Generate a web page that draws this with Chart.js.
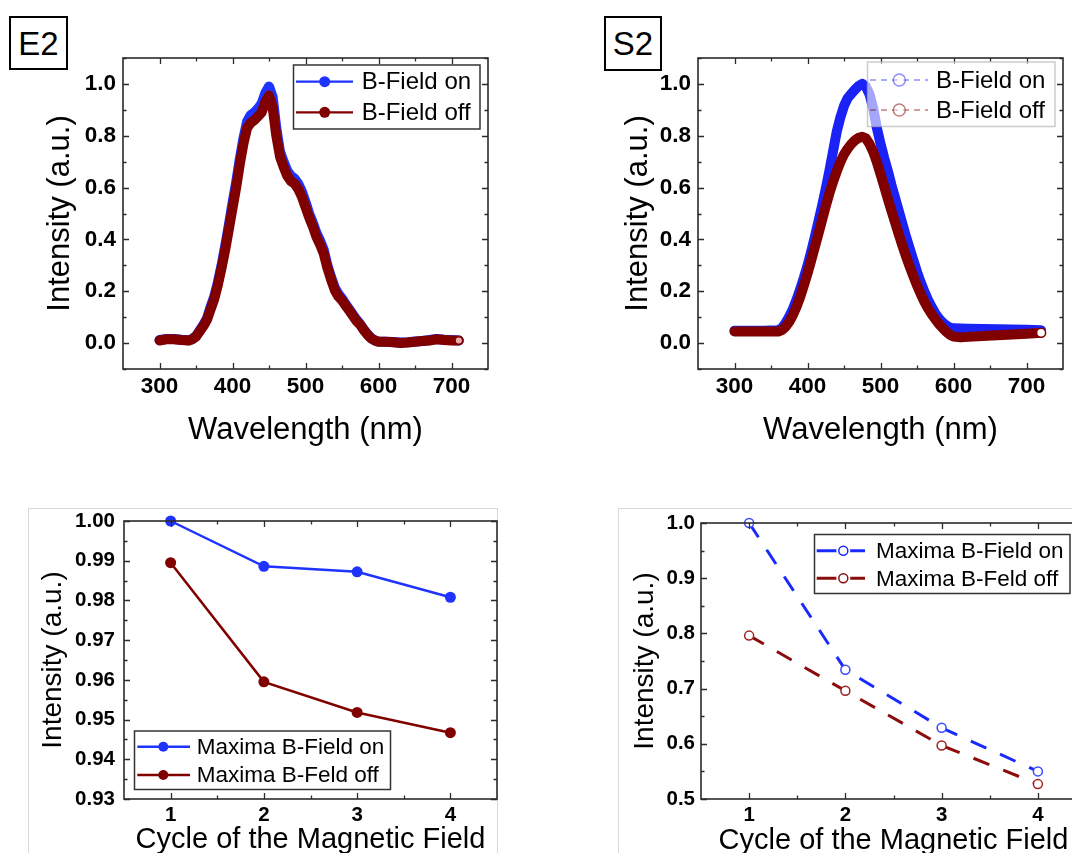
<!DOCTYPE html>
<html><head><meta charset="utf-8">
<script src="https://cdn.jsdelivr.net/npm/chart.js@4.4.0/dist/chart.umd.min.js"></script>
<style>
html,body{margin:0;padding:0;background:#fff;}
body{width:1072px;height:853px;overflow:hidden;position:relative;font-family:'Liberation Sans',Arial,sans-serif;}
.panel{position:absolute;}
.tag{position:absolute;border:2px solid #000;font-size:33px;line-height:1;display:flex;align-items:center;justify-content:center;box-sizing:border-box;color:#000;}
.frame{position:absolute;border:1px solid #d9d9d9;box-sizing:border-box;}
</style></head>
<body>
<div class="frame" style="left:28px;top:508px;width:470px;height:360px;"></div>
<div class="frame" style="left:618px;top:508px;width:520px;height:360px;"></div>
<div class="tag" style="left:9px;top:16px;width:59px;height:54px;">E2</div>
<div class="tag" style="left:604px;top:16px;width:58px;height:55px;">S2</div>
<canvas id="cE2" class="panel" width="520" height="450" style="left:0;top:0;"></canvas>
<canvas id="cS2" class="panel" width="492" height="450" style="left:580px;top:0;"></canvas>
<canvas id="cE2max" class="panel" width="520" height="380" style="left:0;top:480px;"></canvas>
<canvas id="cS2max" class="panel" width="520" height="380" style="left:600px;top:480px;"></canvas>
<script>
// ---------- data ----------
const e2Wavelength = [300,310,320,330,340,345,350,355,360,365,370,375,380,385,390,395,400,405,410,415,420,425,430,435,440,445,450,455,460,465,470,475,480,485,490,495,500,505,510,515,520,525,530,535,540,545,550,555,560,565,570,575,580,585,590,595,600,610,620,630,640,650,660,670,680,690,700,710];
const e2On  = [0.012,0.016,0.016,0.013,0.011,0.016,0.027,0.048,0.070,0.095,0.140,0.180,0.235,0.300,0.375,0.455,0.540,0.620,0.710,0.790,0.855,0.880,0.890,0.905,0.925,0.965,0.990,0.950,0.830,0.740,0.700,0.665,0.645,0.635,0.615,0.585,0.545,0.500,0.465,0.425,0.395,0.360,0.300,0.255,0.215,0.190,0.172,0.150,0.130,0.110,0.090,0.073,0.052,0.034,0.019,0.010,0.006,0.005,0.004,0.002,0.003,0.006,0.008,0.012,0.016,0.013,0.012,0.010];
const e2Off = [0.010,0.015,0.015,0.012,0.010,0.015,0.025,0.045,0.065,0.090,0.130,0.170,0.225,0.290,0.360,0.440,0.520,0.600,0.690,0.770,0.830,0.850,0.860,0.875,0.890,0.930,0.955,0.910,0.800,0.720,0.680,0.645,0.625,0.615,0.595,0.565,0.525,0.485,0.450,0.410,0.380,0.345,0.290,0.245,0.205,0.180,0.165,0.145,0.125,0.105,0.085,0.070,0.050,0.032,0.018,0.010,0.005,0.005,0.003,0.000,0.002,0.005,0.008,0.010,0.015,0.012,0.010,0.010];

const s2Wavelength = [300,310,320,330,340,350,360,365,370,375,380,385,390,395,400,405,410,415,420,425,430,435,440,445,450,455,460,465,470,475,480,485,490,495,500,505,510,515,520,525,530,535,540,545,550,555,560,565,570,575,580,585,590,595,600,610,620,640,660,680,700,720];
const s2On  = [0.048,0.048,0.048,0.048,0.048,0.049,0.050,0.058,0.078,0.102,0.132,0.168,0.208,0.252,0.300,0.352,0.410,0.470,0.530,0.595,0.665,0.740,0.815,0.870,0.915,0.945,0.962,0.978,0.992,1.000,0.990,0.960,0.905,0.830,0.770,0.715,0.665,0.610,0.560,0.510,0.460,0.410,0.365,0.320,0.275,0.235,0.200,0.167,0.140,0.115,0.095,0.080,0.068,0.060,0.057,0.056,0.055,0.054,0.053,0.052,0.051,0.050];
const s2Off = [0.045,0.045,0.045,0.045,0.045,0.045,0.045,0.050,0.063,0.082,0.108,0.140,0.178,0.222,0.268,0.318,0.370,0.422,0.475,0.528,0.578,0.622,0.662,0.698,0.728,0.750,0.768,0.782,0.792,0.796,0.790,0.768,0.738,0.698,0.652,0.605,0.557,0.510,0.465,0.420,0.376,0.334,0.295,0.258,0.222,0.190,0.160,0.134,0.112,0.092,0.074,0.058,0.044,0.032,0.025,0.022,0.024,0.027,0.030,0.033,0.036,0.040];

const cycles = [1,2,3,4];
const e2MaxOn  = [1.000,0.9886,0.9872,0.9808];
const e2MaxOff = [0.9895,0.9595,0.9518,0.9467];
const s2MaxOn  = [1.000,0.734,0.629,0.550];
const s2MaxOff = [0.796,0.696,0.597,0.527];

const seriesLabels = ['B-Field on','B-Field off'];
const maximaLabels = ['Maxima B-Field on','Maxima B-Feld off'];

const specXMajor = [300,400,500,600,700];
const specXMinor = [350,450,550,650];
const specYMajor = [0,0.2,0.4,0.6,0.8,1.0];
const specYMinor = [-0.1,0.1,0.3,0.5,0.7,0.9,1.1];
const cycXMajor = [1,2,3,4];
const cycXMinor = [1.5,2.5,3.5];
const e2MaxYMajor = [0.93,0.94,0.95,0.96,0.97,0.98,0.99,1.00];
const e2MaxYMinor = [0.935,0.945,0.955,0.965,0.975,0.985,0.995];
const s2MaxYMajor = [0.5,0.6,0.7,0.8,0.9,1.0];
const s2MaxYMinor = [0.55,0.65,0.75,0.85,0.95];

// ---------- helpers ----------
const FAMILY = "'Liberation Sans', Arial, sans-serif";
Chart.defaults.font.family = FAMILY;
Chart.defaults.color = '#000';

const BLUE = '#1f33ff';
const RED = '#800000';

const frameTicks = {
  id: 'frameTicks',
  afterDatasetsDraw(chart, args, o) {
    const {ctx, chartArea: a, scales: {x, y}} = chart;
    ctx.save();
    ctx.strokeStyle = '#2b2b2b';
    ctx.lineWidth = 1.3;
    ctx.beginPath();
    const vx = (vals, len) => vals.forEach(v => {
      const p = Math.round(x.getPixelForValue(v)) + 0.5;
      ctx.moveTo(p, a.bottom); ctx.lineTo(p, a.bottom - len);
      ctx.moveTo(p, a.top); ctx.lineTo(p, a.top + len);
    });
    const vy = (vals, len) => vals.forEach(v => {
      const p = Math.round(y.getPixelForValue(v)) + 0.5;
      ctx.moveTo(a.left, p); ctx.lineTo(a.left + len, p);
      ctx.moveTo(a.right, p); ctx.lineTo(a.right - len, p);
    });
    vx(o.xMajor, 6); vx(o.xMinor, 3.5); vy(o.yMajor, 6); vy(o.yMinor, 3.5);
    ctx.stroke();
    ctx.lineWidth = 1.6;
    ctx.strokeRect(a.left, a.top, a.right - a.left, a.bottom - a.top);
    ctx.restore();
  }
};

const boxLegend = {
  id: 'boxLegend',
  afterDraw(chart, args, o) {
    const ctx = chart.ctx;
    ctx.save();
    ctx.fillStyle = o.fill;
    ctx.fillRect(o.x, o.y, o.w, o.h);
    ctx.strokeStyle = o.border;
    ctx.lineWidth = 1.5;
    ctx.strokeRect(o.x, o.y, o.w, o.h);
    chart.data.datasets.forEach((ds, i) => {
      const ry = o.rowY[i];
      const col = ds.borderColor;
      ctx.globalAlpha = o.alpha || 1;
      ctx.strokeStyle = col;
      ctx.lineWidth = o.lineWidth;
      ctx.setLineDash(o.dash || []);
      ctx.beginPath();
      ctx.moveTo(o.lineX[0], ry); ctx.lineTo(o.lineX[1], ry);
      ctx.stroke();
      ctx.setLineDash([]);
      if (o.gap) {
        ctx.fillStyle = '#fff';
        ctx.beginPath(); ctx.arc(o.markX, ry, o.markR + o.gap, 0, Math.PI * 2); ctx.fill();
      }
      ctx.beginPath(); ctx.arc(o.markX, ry, o.markR, 0, Math.PI * 2);
      if (o.open) {
        ctx.fillStyle = '#fff'; ctx.fill();
        ctx.lineWidth = 1.5; ctx.strokeStyle = col; ctx.stroke();
      } else {
        ctx.fillStyle = col; ctx.fill();
      }
      ctx.globalAlpha = 1;
      ctx.fillStyle = '#000';
      ctx.font = o.font + 'px ' + FAMILY;
      ctx.textBaseline = 'middle';
      ctx.textAlign = 'left';
      ctx.fillText(ds.label, o.textX, ry + 1);
    });
    ctx.restore();
  }
};

function axis(opts) {
  return {
    type: 'linear', min: opts.min, max: opts.max,
    afterBuildTicks: s => { s.ticks = opts.ticks.map(v => ({value: v})); },
    afterFit: s => { if (opts.height !== undefined) s.height = opts.height; if (opts.width !== undefined) s.width = opts.width; },
    grid: {display: false, drawTicks: false},
    border: {display: false},
    ticks: {font: {size: opts.tickSize, weight: 'bold'}, color: '#000', padding: opts.tickPad,
      autoSkip: false, maxRotation: 0, callback: v => v.toFixed(opts.dec)},
    title: {display: true, text: opts.title, color: '#000', font: {size: opts.titleSize, weight: 'normal'},
      padding: opts.titlePad}
  };
}

function xy(xs, ys) { return xs.map((v, i) => ({x: v, y: ys[i]})); }

function makeChart(id, c) {
  return new Chart(document.getElementById(id), {
    type: 'line',
    data: {datasets: c.datasets},
    options: {
      responsive: false, animation: false, devicePixelRatio: 1,
      layout: {padding: c.padding},
      plugins: {legend: {display: false}, tooltip: {enabled: false},
        frameTicks: c.ticks, boxLegend: c.legend},
      scales: {x: c.x, y: c.y}
    },
    plugins: [frameTicks, boxLegend]
  });
}

function lastOnly(r) { return ctx => ctx.dataIndex === ctx.dataset.data.length - 1 ? r : 0; }

// ---------- E2 spectra ----------
makeChart('cE2', {
  padding: {top: 58, right: 32, left: 0, bottom: 0},
  datasets: [
    {label: seriesLabels[0], data: xy(e2Wavelength, e2On), borderColor: BLUE, backgroundColor: BLUE,
      borderWidth: 10, borderCapStyle: 'round', borderJoinStyle: 'round', pointRadius: 0, tension: 0, order: 2},
    {label: seriesLabels[1], data: xy(e2Wavelength, e2Off), borderColor: RED, backgroundColor: RED,
      borderWidth: 10, borderCapStyle: 'round', borderJoinStyle: 'round', tension: 0, order: 1,
      pointRadius: lastOnly(3), pointBackgroundColor: '#e8b0b0', pointBorderWidth: 0}
  ],
  x: axis({min: 250, max: 750, ticks: specXMajor, dec: 0, height: 81, tickSize: 22.5, tickPad: 4,
    title: 'Wavelength (nm)', titleSize: 31, titlePad: {top: 0, bottom: 1}}),
  y: axis({min: -0.1, max: 1.1, ticks: specYMajor, dec: 1, width: 123, tickSize: 22.5, tickPad: 7,
    title: 'Intensity (a.u.)', titleSize: 31, titlePad: {top: 42, bottom: 0}}),
  ticks: {xMajor: specXMajor, xMinor: specXMinor, yMajor: specYMajor, yMinor: specYMinor},
  legend: {x: 293.5, y: 65, w: 186.5, h: 64, fill: '#fff', border: '#333', rowY: [81.7, 112.3],
    lineX: [296, 353], markX: 324.7, markR: 5.5, textX: 361.7, font: 24, lineWidth: 2.2}
});

// ---------- S2 spectra ----------
makeChart('cS2', {
  padding: {top: 58, right: 9, left: 0, bottom: 0},
  datasets: [
    {label: seriesLabels[0], data: xy(s2Wavelength, s2On), borderColor: '#1a22f5', backgroundColor: '#1a22f5',
      borderWidth: 10, borderCapStyle: 'round', borderJoinStyle: 'round', pointRadius: 0, tension: 0, order: 2},
    {label: seriesLabels[1], data: xy(s2Wavelength, s2Off), borderColor: RED, backgroundColor: RED,
      borderWidth: 10, borderCapStyle: 'round', borderJoinStyle: 'round', tension: 0, order: 1,
      pointRadius: lastOnly(4.5), pointBackgroundColor: '#fff', pointBorderColor: RED, pointBorderWidth: 1.5}
  ],
  x: axis({min: 250, max: 750, ticks: specXMajor, dec: 0, height: 81, tickSize: 22.5, tickPad: 4,
    title: 'Wavelength (nm)', titleSize: 31, titlePad: {top: 0, bottom: 1}}),
  y: axis({min: -0.1, max: 1.1, ticks: specYMajor, dec: 1, width: 118, tickSize: 22.5, tickPad: 7,
    title: 'Intensity (a.u.)', titleSize: 31, titlePad: {top: 40, bottom: 0}}),
  ticks: {xMajor: specXMajor, xMinor: specXMinor, yMajor: specYMajor, yMinor: specYMinor},
  legend: {x: 287.5, y: 62, w: 187.5, h: 64.5, fill: 'rgba(255,255,255,0.6)', border: 'rgba(170,170,170,0.6)',
    rowY: [80, 110], lineX: [290, 348], markX: 319.3, markR: 6, textX: 356, font: 24, lineWidth: 1.5,
    dash: [6, 5], open: true, alpha: 0.5}
});

// ---------- E2 maxima ----------
makeChart('cE2max', {
  padding: {top: 41, right: 23, left: 0, bottom: 0},
  datasets: [
    {label: maximaLabels[0], data: xy(cycles, e2MaxOn), borderColor: BLUE, backgroundColor: BLUE,
      borderWidth: 2.5, pointRadius: 5.5, pointBorderWidth: 0, tension: 0, clip: false},
    {label: maximaLabels[1], data: xy(cycles, e2MaxOff), borderColor: RED, backgroundColor: RED,
      borderWidth: 2.5, pointRadius: 5.5, pointBorderWidth: 0, tension: 0, clip: false}
  ],
  x: axis({min: 0.5, max: 4.5, ticks: cycXMajor, dec: 0, height: 61, tickSize: 20.5, tickPad: 4,
    title: 'Cycle of the Magnetic Field', titleSize: 29, titlePad: {top: 0, bottom: 3}}),
  y: axis({min: 0.93, max: 1.0, ticks: e2MaxYMajor, dec: 2, width: 124, tickSize: 20.5, tickPad: 9,
    title: 'Intensity (a.u.)', titleSize: 28, titlePad: {top: 36, bottom: 0}}),
  ticks: {xMajor: cycXMajor, xMinor: cycXMinor, yMajor: e2MaxYMajor, yMinor: e2MaxYMinor},
  legend: {x: 134.5, y: 251, w: 256, h: 58.5, fill: '#fff', border: '#333', rowY: [266.7, 295],
    lineX: [137.3, 190], markX: 163.3, markR: 5, textX: 196.7, font: 22.5, lineWidth: 2.5}
});

// ---------- S2 maxima ----------
makeChart('cS2max', {
  padding: {top: 43, right: 34, left: 0, bottom: 0},
  datasets: [
    {label: maximaLabels[0], data: xy(cycles, s2MaxOn), borderColor: '#1a2aff', backgroundColor: '#fff',
      borderWidth: 3, borderDash: [17, 15], pointRadius: 4.5, pointBorderWidth: 1.5,
      pointBorderColor: '#3a48ff', pointBackgroundColor: '#fff', tension: 0, clip: false},
    {label: maximaLabels[1], data: xy(cycles, s2MaxOff), borderColor: '#8a0c0c', backgroundColor: '#fff',
      borderWidth: 3, borderDash: [17, 15], pointRadius: 4.5, pointBorderWidth: 1.5,
      pointBorderColor: '#a02020', pointBackgroundColor: '#fff', tension: 0, clip: false}
  ],
  x: axis({min: 0.5, max: 4.5, ticks: cycXMajor, dec: 0, height: 61, tickSize: 20.5, tickPad: 4,
    title: 'Cycle of the Magnetic Field', titleSize: 29, titlePad: {top: 0, bottom: 2}}),
  y: axis({min: 0.5, max: 1.0, ticks: s2MaxYMajor, dec: 1, width: 101, tickSize: 20.5, tickPad: 6,
    title: 'Intensity (a.u.)', titleSize: 28, titlePad: {top: 28, bottom: 0}}),
  ticks: {xMajor: cycXMajor, xMinor: cycXMinor, yMajor: s2MaxYMajor, yMinor: s2MaxYMinor},
  legend: {x: 214.5, y: 54.5, w: 255.5, h: 59, fill: '#fff', border: '#333', rowY: [70.7, 98.3],
    lineX: [216.7, 265], markX: 243.3, markR: 4.5, gap: 2.5, textX: 276, font: 22.5, lineWidth: 3, open: true}
});
</script>
</body></html>
